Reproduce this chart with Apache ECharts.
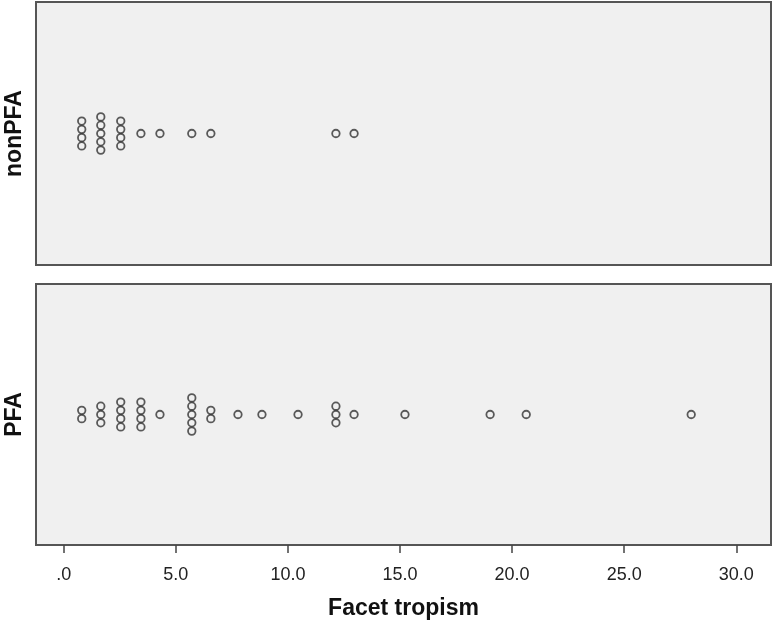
<!DOCTYPE html>
<html>
<head>
<meta charset="utf-8">
<script src="https://cdn.jsdelivr.net/npm/echarts@6/dist/echarts.min.js"></script>
<style>
html,body{margin:0;padding:0;background:#fff;}
#chart{width:774px;height:622px;}
</style>
</head>
<body>
<div id="chart"></div>
<script>
// Panel categories (y-axis labels)
const groups = ['nonPFA', 'PFA'];
// Facet tropism values (each dot is one case)
const nonPFAValues = [0.8,0.8,0.8,0.8, 1.65,1.65,1.65,1.65,1.65, 2.54,2.54,2.54,2.54, 3.44, 4.29, 5.71, 6.56, 12.14, 12.95];
const PFAValues = [0.8,0.8, 1.65,1.65,1.65, 2.54,2.54,2.54,2.54, 3.44,3.44,3.44,3.44, 4.29,
  5.71,5.71,5.71,5.71,5.71, 6.56,6.56, 7.77, 8.84, 10.45, 12.14,12.14,12.14, 12.95, 15.22, 19.02, 20.63, 27.99];
// X-axis tick values
const xTicks = [0, 5, 10, 15, 20, 25, 30];

// Stack identical values vertically, centred on the panel's middle line
function stackDots(values) {
  const counts = {};
  values.forEach(v => { counts[v] = (counts[v] || 0) + 1; });
  const seen = {};
  return values.map(v => {
    const i = seen[v] || 0; seen[v] = i + 1;
    return [v, i - (counts[v] - 1) / 2];
  });
}

const chart = echarts.init(document.getElementById('chart'), null, {renderer: 'canvas'});
const border = '#555555';
const dotStyle = {color: 'rgba(0,0,0,0)', borderColor: '#333333', borderWidth: 1.8};
const xMin = -1.24, xMax = 31.55;
const font = 'Liberation Sans, Arial, sans-serif';

const option = {
  animation: false,
  backgroundColor: '#ffffff',
  grid: [
    {left: 36, top: 2, width: 735, height: 263, outerBoundsMode: 'none', containLabel: false, show: true, backgroundColor: '#f0f0f0', borderColor: border, borderWidth: 2},
    {left: 36, top: 284, width: 735, height: 261, outerBoundsMode: 'none', containLabel: false, show: true, backgroundColor: '#f0f0f0', borderColor: border, borderWidth: 2}
  ],
  xAxis: [
    {gridIndex: 0, type: 'value', min: xMin, max: xMax, show: false},
    {gridIndex: 1, type: 'value', min: xMin, max: xMax, position: 'bottom',
      splitLine: {show: false},
      axisLine: {show: false, onZero: false},
      axisTick: {show: true, length: 8, customValues: xTicks, lineStyle: {color: '#444', width: 1.5}},
      axisLabel: {show: true, customValues: xTicks, margin: 21, fontSize: 18, color: '#222', fontFamily: font,
        formatter: v => v === 0 ? '.0' : v.toFixed(1)},
      name: 'Facet tropism', nameLocation: 'middle', nameGap: 52,
      nameTextStyle: {fontSize: 23, fontWeight: 'bold', color: '#111', fontFamily: font}
    }
  ],
  yAxis: [
    {gridIndex: 0, type: 'value', min: -15.84, max: 15.84, axisLine: {show: false, onZero: false}, axisTick: {show: false}, axisLabel: {show: false}, splitLine: {show: false},
      name: groups[0], nameLocation: 'middle', nameGap: 10,
      nameTextStyle: {fontSize: 23, fontWeight: 'bold', color: '#111', fontFamily: font}},
    {gridIndex: 1, type: 'value', min: -15.72, max: 15.72, axisLine: {show: false, onZero: false}, axisTick: {show: false}, axisLabel: {show: false}, splitLine: {show: false},
      name: groups[1], nameLocation: 'middle', nameGap: 10,
      nameTextStyle: {fontSize: 23, fontWeight: 'bold', color: '#111', fontFamily: font}}
  ],
  series: [
    {type: 'scatter', xAxisIndex: 0, yAxisIndex: 0, symbol: 'circle', symbolSize: 7.5, itemStyle: dotStyle, data: stackDots(nonPFAValues)},
    {type: 'scatter', xAxisIndex: 1, yAxisIndex: 1, symbol: 'circle', symbolSize: 7.5, itemStyle: dotStyle, data: stackDots(PFAValues)}
  ]
};
chart.setOption(option);
</script>
</body>
</html>
